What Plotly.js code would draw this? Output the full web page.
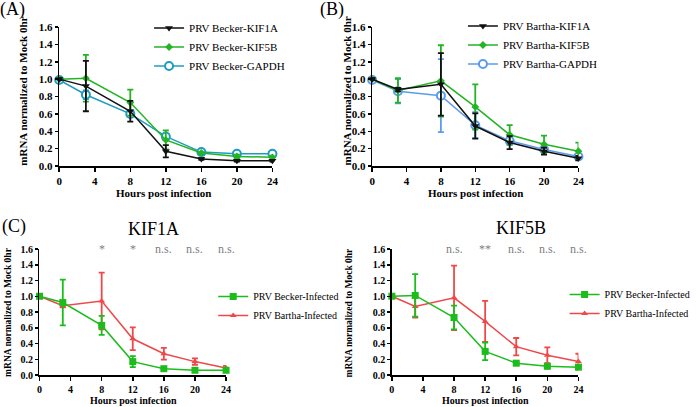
<!DOCTYPE html>
<html>
<head>
<meta charset="utf-8">
<script src="https://cdn.plot.ly/plotly-3.0.1.min.js"></script>
<style>html,body{margin:0;padding:0;background:#fff;}#chart{width:696px;height:407px;}</style>
</head>
<body>
<div id="chart"></div>
<script>
// ---- data ----
const hours = [0, 3, 8, 12, 16, 20, 24];
const xTicks = [0, 4, 8, 12, 16, 20, 24];
const yTicks = [0, 0.2, 0.4, 0.6, 0.8, 1.0, 1.2, 1.4, 1.6];

const beckerKIF1A = [1.00, 0.92, 0.63, 0.17, 0.08, 0.06, 0.06];
const beckerKIF1AErr = [0.01, 0.29, 0.12, 0.07, 0.01, 0.01, 0.01];
const beckerKIF5B = [1.00, 1.01, 0.73, 0.30, 0.15, 0.11, 0.10];
const beckerKIF5BErr = [0.01, 0.27, 0.15, 0.11, 0.01, 0.02, 0.02];
const beckerGAPDH = [0.99, 0.82, 0.60, 0.34, 0.16, 0.14, 0.14];
const beckerGAPDHErr = [0.01, 0.05, 0.03, 0.03, 0.01, 0.01, 0.01];

const barthaKIF1A = [1.00, 0.88, 0.94, 0.46, 0.27, 0.17, 0.09];
const barthaKIF1AErr = [0.01, 0.02, 0.36, 0.145, 0.075, 0.04, 0.025];
const barthaKIF5B = [1.00, 0.87, 0.98, 0.68, 0.36, 0.25, 0.17];
const barthaKIF5BErr = [0.01, 0.14, 0.41, 0.26, 0.11, 0.10, 0.10];
const barthaGAPDH = [0.99, 0.86, 0.81, 0.47, 0.29, 0.19, 0.11];
const barthaGAPDHErr = [0.01, 0.14, 0.42, 0.15, 0.05, 0.03, 0.02];

const sigHours = [8, 12, 16, 20, 24];
const sigKIF1A = ['*', '*', 'n.s.', 'n.s.', 'n.s.'];
const sigKIF5B = ['n.s.', '**', 'n.s.', 'n.s.', 'n.s.'];

// ---- style ----
const SERIF = '"Liberation Serif", serif';
const BLACK = '#111111', GREEN = '#22b422', TEAL = '#1e9cc0', LBLUE = '#5b9cec', RED = '#f04848', GREEN2 = '#1cbc1c';

function tr(y, err, xa, ya, name, color, symbol, size, leg, rank, open) {
  return {
    x: hours, y: y, xaxis: xa, yaxis: ya, name: name, type: 'scatter', mode: 'lines+markers',
    cliponaxis: false, legend: leg, legendrank: rank,
    line: {color: color, width: 1.5},
    marker: open ? {color: '#ffffff', symbol: symbol, size: size, line: {color: color, width: 2}}
                 : {color: color, symbol: symbol, size: size, line: {width: 0}},
    error_y: {type: 'data', array: err, visible: true, color: color, thickness: 1.8, width: 3}
  };
}

const data = [
  tr(beckerGAPDH, beckerGAPDHErr, 'x', 'y', 'PRV Becker-GAPDH', TEAL, 'circle', 8, 'legend', 3, true),
  tr(beckerKIF5B, beckerKIF5BErr, 'x', 'y', 'PRV Becker-KIF5B', GREEN, 'diamond', 6, 'legend', 2),
  tr(beckerKIF1A, beckerKIF1AErr, 'x', 'y', 'PRV Becker-KIF1A', BLACK, 'triangle-down', 7, 'legend', 1),

  tr(barthaGAPDH, barthaGAPDHErr, 'x2', 'y2', 'PRV Bartha-GAPDH', LBLUE, 'circle', 8, 'legend2', 3, true),
  tr(barthaKIF5B, barthaKIF5BErr, 'x2', 'y2', 'PRV Bartha-KIF5B', GREEN, 'diamond', 6, 'legend2', 2),
  tr(barthaKIF1A, barthaKIF1AErr, 'x2', 'y2', 'PRV Bartha-KIF1A', BLACK, 'triangle-down', 7, 'legend2', 1),

  tr(barthaKIF1A, barthaKIF1AErr, 'x3', 'y3', 'PRV Bartha-Infected', RED, 'triangle-up', 6, 'legend3', 2),
  tr(beckerKIF1A, beckerKIF1AErr, 'x3', 'y3', 'PRV Becker-Infected', GREEN2, 'square', 7, 'legend3', 1),

  tr(barthaKIF5B, barthaKIF5BErr, 'x4', 'y4', 'PRV Bartha-Infected', RED, 'triangle-up', 6, 'legend4', 2),
  tr(beckerKIF5B, beckerKIF5BErr, 'x4', 'y4', 'PRV Becker-Infected', GREEN2, 'square', 7, 'legend4', 1)
];

const W = 696, H = 407;
const px = v => v / W, py = v => (H - v) / H;

function xax(d0, d1, anchor, fs) {
  return {domain: [px(d0), px(d1)], anchor: anchor, range: [0, 24], tickvals: xTicks,
    ticks: 'outside', ticklen: 4, tickwidth: 1.5, tickcolor: '#000', showline: true, linecolor: '#000', linewidth: 1.5,
    showgrid: false, zeroline: false, tickfont: {family: SERIF, size: fs, color: '#000', weight: 'bold'}};
}
function yax(d0, d1, anchor, fs) {
  return {domain: [py(d1), py(d0)], anchor: anchor, range: [0, 1.6], tickvals: yTicks, tickformat: '.1f',
    ticks: 'outside', ticklen: 3, tickwidth: 1.5, tickcolor: '#000', showline: true, linecolor: '#000', linewidth: 1.5,
    showgrid: false, zeroline: false, tickfont: {family: SERIF, size: fs, color: '#000', weight: 'bold'}};
}
function leg(xpx, ypx, fs) {
  return {x: px(xpx), y: py(ypx), xanchor: 'left', yanchor: 'middle', bgcolor: 'rgba(0,0,0,0)',
    font: {family: SERIF, size: fs, color: '#000'}, itemwidth: 30, tracegroupgap: 0};
}

const ann = [];
function txt(x, y, text, size, opts) {
  ann.push(Object.assign({xref: 'paper', yref: 'paper', x: px(x), y: py(y), text: text, showarrow: false,
    xanchor: 'center', yanchor: 'middle', font: {family: SERIF, size: size, color: '#000'}}, opts || {}));
}
const bold = s => ({font: {family: SERIF, size: s, color: '#000', weight: 'bold'}});
// panel labels & titles
txt(13, 9, '(A)', 18);
txt(336, 9, '(B)', 18);
txt(14, 226, '(C)', 18);
txt(156, 229, 'KIF1A', 18);
txt(528, 228, 'KIF5B', 18);
// axis titles
txt(166, 193, 'Hours post infection', 11, bold(11));
txt(482, 193, 'Hours post infection', 11, bold(11));
txt(135, 400, 'Hours post infection', 10, bold(10));
txt(492, 400, 'Hours post infection', 10, bold(10));
txt(23, 91, 'mRNA normalized to Mock 0hr', 11, Object.assign({textangle: -90}, bold(11)));
txt(352, 91, 'mRNA normalized to Mock 0hr', 11, Object.assign({textangle: -90}, bold(11)));
txt(8, 312, 'mRNA normalized to Mock 0hr', 9.5, Object.assign({textangle: -90}, bold(9.5)));
txt(354, 312, 'mRNA normalized to Mock 0hr', 9.5, Object.assign({textangle: -90}, bold(9.5)));
// significance
sigHours.forEach((h, i) => {
  ann.push({xref: 'x3', yref: 'y3', x: h, y: 1.6, text: sigKIF1A[i], showarrow: false, xanchor: 'center', yanchor: 'middle',
    font: {family: SERIF, size: 12, color: '#808080'}});
  ann.push({xref: 'x4', yref: 'y4', x: h, y: 1.6, text: sigKIF5B[i], showarrow: false, xanchor: 'center', yanchor: 'middle',
    font: {family: SERIF, size: 12, color: '#808080'}});
});

const layout = {
  width: W, height: H, margin: {l: 0, r: 0, t: 0, b: 0}, paper_bgcolor: '#fff', plot_bgcolor: '#fff',
  font: {family: SERIF},
  showlegend: true,
  xaxis: xax(60, 276, 'y', 11), yaxis: yax(27, 166, 'x', 11),
  xaxis2: xax(377, 586, 'y2', 11), yaxis2: yax(27, 166, 'x2', 11),
  xaxis3: xax(40, 229, 'y3', 10), yaxis3: yax(249, 375, 'x3', 10),
  xaxis4: xax(397, 586, 'y4', 10), yaxis4: yax(249, 375, 'x4', 10),
  legend: leg(151, 47, 11),
  legend2: leg(469, 45, 11),
  legend3: leg(216, 306, 10),
  legend4: leg(572, 304, 10),
  annotations: ann
};

Plotly.newPlot('chart', data, layout, {displayModeBar: false, staticPlot: true});
</script>
</body>
</html>
